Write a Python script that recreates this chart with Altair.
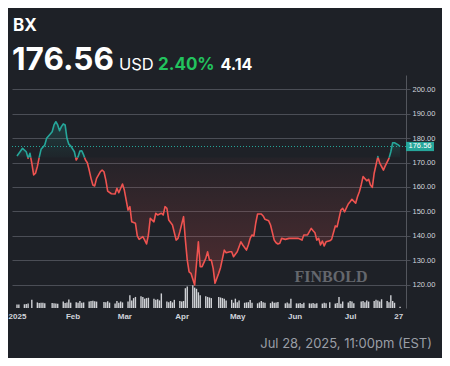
import altair as alt
import pandas as pd

# ---------------- data ----------------
TICKER = "BX"
PRICE_TEXT = "176.56"
CURRENCY = "USD"
CHANGE_PCT = "2.40%"
CHANGE_ABS = "4.14"
TIMESTAMP = "Jul 28, 2025, 11:00pm (EST)"
WATERMARK = "FINBOLD"
LAST_PRICE = 176.56
BASELINE = 172.0

price_dates = [
    "2025-01-02", "2025-01-05", "2025-01-07", "2025-01-08", "2025-01-09", "2025-01-10",
    "2025-01-11", "2025-01-12", "2025-01-13", "2025-01-14", "2025-01-15", "2025-01-17",
    "2025-01-18", "2025-01-20", "2025-01-21", "2025-01-22", "2025-01-23", "2025-01-24",
    "2025-01-25", "2025-01-26", "2025-01-27", "2025-01-28", "2025-01-29", "2025-01-30",
    "2025-01-31", "2025-02-02", "2025-02-03", "2025-02-04", "2025-02-05", "2025-02-06",
    "2025-02-07", "2025-02-08", "2025-02-09", "2025-02-10", "2025-02-11", "2025-02-12",
    "2025-02-13", "2025-02-14", "2025-02-16", "2025-02-17", "2025-02-18", "2025-02-19",
    "2025-02-20", "2025-02-22", "2025-02-24", "2025-02-25", "2025-02-26", "2025-02-28",
    "2025-03-01", "2025-03-03", "2025-03-04", "2025-03-05", "2025-03-07", "2025-03-08",
    "2025-03-09", "2025-03-11", "2025-03-12", "2025-03-13", "2025-03-14", "2025-03-15",
    "2025-03-17", "2025-03-18", "2025-03-19", "2025-03-21", "2025-03-22", "2025-03-23",
    "2025-03-24", "2025-03-25", "2025-03-27", "2025-03-29", "2025-03-30", "2025-03-31",
    "2025-04-02", "2025-04-03", "2025-04-04", "2025-04-05", "2025-04-06", "2025-04-08",
    "2025-04-10", "2025-04-11", "2025-04-12", "2025-04-14", "2025-04-15", "2025-04-16",
    "2025-04-17", "2025-04-18", "2025-04-19", "2025-04-21", "2025-04-22", "2025-04-24",
    "2025-04-25", "2025-04-27", "2025-04-28", "2025-04-29", "2025-05-01", "2025-05-03",
    "2025-05-04", "2025-05-06", "2025-05-07", "2025-05-08", "2025-05-09", "2025-05-10",
    "2025-05-11", "2025-05-12", "2025-05-14", "2025-05-15", "2025-05-16", "2025-05-18",
    "2025-05-19", "2025-05-21", "2025-05-22", "2025-05-23", "2025-05-24", "2025-05-25",
    "2025-05-27", "2025-05-29", "2025-06-01", "2025-06-03", "2025-06-05", "2025-06-06",
    "2025-06-08", "2025-06-10", "2025-06-11", "2025-06-12", "2025-06-13", "2025-06-14",
    "2025-06-15", "2025-06-16", "2025-06-17", "2025-06-18", "2025-06-20", "2025-06-21",
    "2025-06-23", "2025-06-24", "2025-06-25", "2025-06-26", "2025-06-27", "2025-06-28",
    "2025-06-30", "2025-07-01", "2025-07-02", "2025-07-04", "2025-07-05", "2025-07-06",
    "2025-07-07", "2025-07-08", "2025-07-10", "2025-07-11", "2025-07-12", "2025-07-13",
    "2025-07-14", "2025-07-16", "2025-07-17", "2025-07-19", "2025-07-20", "2025-07-22",
    "2025-07-23", "2025-07-24", "2025-07-25", "2025-07-27", "2025-07-28",
]
price_values = [
    172.7, 175.8, 174.4, 171.7, 173.8, 169.7,
    164.9, 165.6, 168.3, 172.1, 175.4, 177.2,
    179.9, 181.7, 182.6, 185.4, 186.7, 185.4,
    183.0, 184.7, 185.8, 185.4, 179.9, 177.5,
    176.8, 174.4, 171.0, 172.4, 174.7, 174.8,
    173.1, 171.0, 169.9, 166.9, 163.5, 160.8,
    160.4, 163.5, 166.2, 166.9, 166.2, 162.8,
    158.3, 157.2, 157.1, 159.4, 157.6, 161.2,
    158.7, 150.5, 151.9, 145.7, 145.1, 139.9,
    138.5, 139.6, 138.2, 136.6, 140.3, 147.1,
    145.7, 149.2, 148.5, 149.2, 148.5, 151.9,
    151.2, 146.4, 144.4, 138.2, 138.9, 141.6,
    147.8, 138.2, 130.0, 125.2, 124.6, 119.8,
    137.5, 127.3, 127.3, 130.7, 133.4, 130.0,
    130.0, 126.6, 120.5, 124.6, 127.0, 134.1,
    133.0, 133.4, 133.4, 131.4, 133.4, 137.5,
    136.2, 134.1, 136.2, 138.9, 140.3, 139.9,
    145.1, 148.9, 148.9, 148.1, 146.7, 146.1,
    144.4, 138.2, 137.1, 136.6, 136.9, 138.9,
    138.5, 138.9, 138.9, 138.9, 138.2, 140.3,
    140.3, 143.0, 142.0, 141.2, 138.2, 138.9,
    136.2, 137.8, 135.8, 137.5, 137.9, 138.5,
    144.0, 143.7, 147.1, 150.5, 151.2, 149.8,
    153.0, 153.9, 154.9, 153.3, 156.0, 158.0,
    160.8, 164.2, 162.5, 163.1, 160.8, 159.8,
    165.6, 172.4, 169.7, 166.9, 168.6, 171.7,
    174.4, 178.1, 178.1, 177.2, 176.56,
]

# daily volume (millions), one per trading session
volume_jan = [3.0, 3.0, 3.2, 3.4, 3.8, 7.0, 4.8, 4.2, 4.5, 4.4, 4.0, 4.3, 4.0, 3.8, 3.6, 5.6, 4.2, 4.8, 7.2, 4.6]
volume_feb = [5.0, 4.5, 6.0, 4.6, 4.8, 5.5, 6.0, 6.3, 5.8, 5.5, 5.2, 5.0, 5.8, 4.6, 3.8, 6.0, 4.4, 5.6, 4.8]
volume_mar = [5.5, 11.0, 6.5, 8.5, 9.5, 10.0, 9.5, 8.0, 8.5, 8.8, 8.0, 7.0, 7.5, 6.5, 12.5, 5.5, 5.0, 6.0, 4.8, 7.0, 6.0]
volume_apr = [5.5, 6.0, 17.0, 18.5, 19.5, 17.5, 16.5, 13.5, 11.0, 10.0, 9.5, 9.0, 8.5, 9.5, 9.0, 8.5, 8.0, 6.5, 7.0, 4.5, 8.0]
volume_may = [5.0, 6.5, 4.5, 4.8, 5.0, 6.8, 4.5, 4.0, 4.8, 6.0, 5.0, 4.5, 4.2, 5.5, 4.5, 4.8, 5.2, 4.0, 4.8, 3.8, 8.0]
volume_jun = [4.0, 3.8, 4.2, 3.5, 4.5, 4.0, 3.8, 4.2, 3.6, 4.0, 3.8, 4.5, 4.0, 5.0, 3.8, 4.2, 9.5, 3.6, 5.5, 4.8]
volume_jul = [6.0, 5.5, 4.0, 5.5, 6.0, 5.0, 6.5, 5.5, 6.0, 7.0, 6.5, 5.5, 7.5, 6.0, 5.0, 11.0, 6.0, 4.5, 1.0]
market_holidays = ["2025-01-09", "2025-01-20", "2025-02-17", "2025-04-18",
                   "2025-05-26", "2025-06-19", "2025-07-04"]

y_ticks = [120, 130, 140, 150, 160, 170, 180, 190, 200]
x_tick_dates = ["2025-01-02", "2025-02-01", "2025-03-01", "2025-04-01",
                "2025-05-01", "2025-06-01", "2025-07-01", "2025-07-27"]
x_tick_labels = ["2025", "Feb", "Mar", "Apr", "May", "Jun", "Jul", "27"]

# ---------------- styling ----------------
BG = "#1e2127"
RED = "#ef5350"
GREEN = "#26a69a"
GRID = "#4b4e56"
AXIS_TXT = "#d1d4dc"
W, H = 394, 233

# ---------------- build tables ----------------
pts = pd.DataFrame({"date": pd.to_datetime(price_dates), "price": price_values})
rows = []
seg = 0
prev = None
for d, p in zip(pts["date"], pts["price"]):
    side = "up" if p >= BASELINE else "down"
    if prev is not None and prev[2] != side:
        t = (BASELINE - prev[1]) / (p - prev[1])
        dc = prev[0] + (d - prev[0]) * t
        rows.append({"date": dc, "price": BASELINE, "seg": seg, "side": prev[2]})
        seg += 1
        rows.append({"date": dc, "price": BASELINE, "seg": seg, "side": side})
    rows.append({"date": d, "price": p, "seg": seg, "side": side})
    prev = (d, p, side)
line_df = pd.DataFrame(rows)

vol_days = [d for d in pd.bdate_range("2025-01-02", "2025-07-28")
            if d.strftime("%Y-%m-%d") not in market_holidays]
volumes = volume_jan + volume_feb + volume_mar + volume_apr + volume_may + volume_jun + volume_jul
vol_df = pd.DataFrame({"date": vol_days, "vol": volumes})


def to_dt(s, hours=0):
    y, m, d = (int(v) for v in s.split("-"))
    return alt.DateTime(year=y, month=m, date=d, hours=hours)


x_scale = alt.Scale(domain=[to_dt("2025-01-02"), to_dt("2025-07-28", 12)], nice=False)
y_scale = alt.Scale(domain=[110.37, 205.86], nice=False, zero=False)

label_expr = "''"
for d, l in reversed(list(zip(x_tick_dates, x_tick_labels))):
    label_expr = f"timeFormat(datum.value, '%Y-%m-%d') == '{d}' ? '{l}' : {label_expr}"

x_axis = alt.Axis(values=[to_dt(d) for d in x_tick_dates], labelExpr=label_expr,
                  tickCount=len(x_tick_dates) + 2,
                  grid=False, domain=False, ticks=False, title=None,
                  labelColor=AXIS_TXT, labelFontSize=8, labelFontWeight="bold",
                  labelFont="Liberation Sans", labelPadding=4, labelFlush=True,
                  labelOverlap=False)
y_axis = alt.Axis(orient="right", values=y_ticks, tickCount=len(y_ticks) + 2,
                  format=".2f", title=None,
                  grid=True, gridColor=GRID, gridWidth=1,
                  domain=True, domainColor="#53565d", tickColor=GRID, tickSize=4,
                  labelColor=AXIS_TXT, labelFontSize=7.5, labelFont="Liberation Sans",
                  labelPadding=2, labelOverlap=False, labelBound=False)

base = alt.Chart(line_df)

red_grad = alt.Gradient(gradient="linear", x1=0, x2=0, y1=0, y2=1, stops=[
    alt.GradientStop(color="rgba(239,83,80,0.03)", offset=0),
    alt.GradientStop(color="rgba(239,83,80,0.24)", offset=1)])
green_grad = alt.Gradient(gradient="linear", x1=0, x2=0, y1=0, y2=1, stops=[
    alt.GradientStop(color="rgba(38,166,154,0.22)", offset=0),
    alt.GradientStop(color="rgba(38,166,154,0.03)", offset=1)])

area_red = base.transform_filter(alt.datum.side == "down").mark_area(color=red_grad).encode(
    x=alt.X("date:T", scale=x_scale, axis=x_axis),
    y=alt.Y("price:Q", scale=y_scale, axis=y_axis),
    y2=alt.datum(BASELINE),
    detail="seg:N",
)
area_green = base.transform_filter(alt.datum.side == "up").mark_area(color=green_grad).encode(
    x=alt.X("date:T", scale=x_scale),
    y=alt.Y("price:Q", scale=y_scale),
    y2=alt.datum(BASELINE),
    detail="seg:N",
)
line = base.mark_line(strokeWidth=1.6, strokeJoin="round").encode(
    x=alt.X("date:T", scale=x_scale),
    y=alt.Y("price:Q", scale=y_scale),
    color=alt.Color("side:N", scale=alt.Scale(domain=["up", "down"], range=[GREEN, RED]), legend=None),
    detail="seg:N",
)

last_df = pd.DataFrame({"price": [LAST_PRICE], "label": [PRICE_TEXT]})
last_rule = alt.Chart(last_df).mark_rule(color=GREEN, strokeDash=[1, 2], strokeWidth=1).encode(
    y=alt.Y("price:Q", scale=y_scale), x=alt.value(0), x2=alt.value(W))
last_box = alt.Chart(last_df).mark_point(
    shape="M-1,-0.33L1,-0.33L1,0.33L-1,0.33Z", size=784, filled=True, opacity=1,
    color=GREEN, strokeWidth=0).encode(
    y=alt.Y("price:Q", scale=y_scale), x=alt.value(408))
last_txt = alt.Chart(last_df).mark_text(color="#ffffff", fontSize=7.5, font="Liberation Sans",
                                        baseline="middle", align="center").encode(
    y=alt.Y("price:Q", scale=y_scale), x=alt.value(408), text="label:N")

price_layer = alt.layer(area_red, area_green, line, last_rule, last_box, last_txt)

volume = alt.Chart(vol_df).mark_bar(width=1.4, color="#cfd1d5").encode(
    x=alt.X("date:T", scale=x_scale),
    y=alt.Y("vol:Q", scale=alt.Scale(domain=[0, 200]), axis=None),
)


def txt(value, x, y, size, color, weight="normal", align="left", font="Inter"):
    return alt.Chart(pd.DataFrame({"t": [value]})).mark_text(
        align=align, baseline="alphabetic", fontSize=size, color=color,
        fontWeight=weight, font=font).encode(
        x=alt.value(x), y=alt.value(y), text="t:N")


header = alt.layer(
    txt(TICKER, 1, -44, 17, "#ffffff", "bold"),
    txt(PRICE_TEXT, 0, -5, 31.5, "#ffffff", "bold"),
    txt(CURRENCY, 107, -5, 16.5, "#ffffff", "normal"),
    txt(CHANGE_PCT, 146, -5, 17, "#22c35e", "bold"),
    txt(CHANGE_ABS, 208.5, -5, 16, "#ffffff", "bold"),
    txt(TIMESTAMP, 420, 273, 13, "#9a9ea6", "normal", align="right"),
    txt(WATERMARK, 319, 207, 16, "#64676d", "bold", align="center", font="Liberation Serif"),
)

chart = alt.layer(volume, price_layer, header).resolve_scale(y="independent").properties(
    width=W, height=H,
    autosize=alt.AutoSizeParams(type="none"),
    padding={"left": 4, "top": 67, "right": 36, "bottom": 50},
    background=BG,
).configure_view(stroke=None)

chart.save("out.html", embed_options={"renderer": "svg", "actions": False})
